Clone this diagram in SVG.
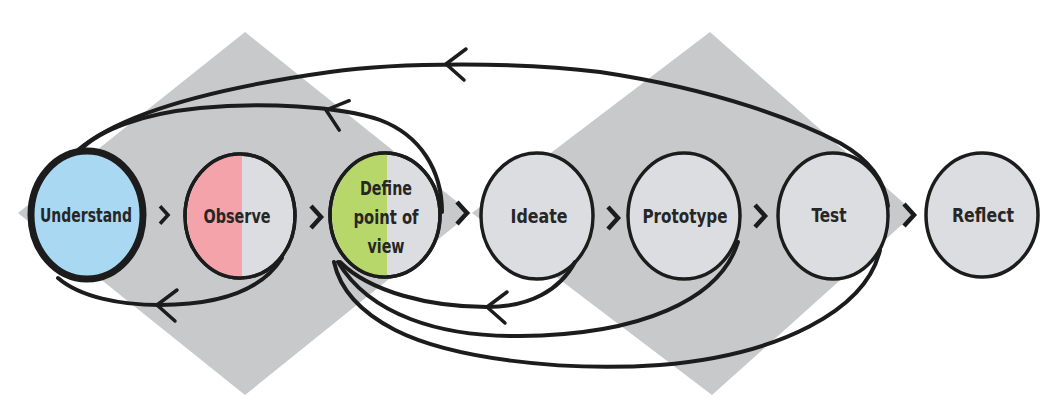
<svg xmlns="http://www.w3.org/2000/svg" width="1060" height="404" viewBox="0 0 1060 404">
<defs>
<style>
.bg{fill:#c8c9cb}
.node{stroke:#1c1c1c;stroke-width:3.5;fill:#dcdde0}
.half{stroke:none}
.lbl{font-family:"DejaVu Sans Condensed","Liberation Sans",sans-serif;font-weight:bold;font-size:20px;fill:#262626;text-anchor:middle}
.arc{fill:none;stroke:#1c1c1c;stroke-width:4;stroke-linecap:round}
.chev{fill:none;stroke:#1c1c1c;stroke-width:4.5;stroke-linecap:butt;stroke-linejoin:miter}
.ah{fill:none;stroke:#1c1c1c;stroke-width:3.5;stroke-linecap:round;stroke-linejoin:round}
</style>
<path id="ah" d="M20,-15 L0,0 L18,16"/>
<path id="chev" d="M-5,-11 L5,0 L-5,11"/>
</defs>
<rect width="1060" height="404" fill="#ffffff"/>
<g id="backdrop">
<polygon class="bg" points="18,213 245,32 471,213 245,395"/>
<polygon class="bg" points="472,213 710,32 915,213 712,395"/>
</g>
<g id="chevrons" class="chev">
<use href="#chev" transform="translate(164,215) scale(0.8)"/>
<use href="#chev" transform="translate(316,217)"/>
<use href="#chev" transform="translate(462,213)"/>
<use href="#chev" transform="translate(613,218)"/>
<use href="#chev" transform="translate(760,216)"/>
<use href="#chev" transform="translate(909,215)"/>
</g>
<g id="n-understand">
<ellipse cx="87" cy="215" rx="56" ry="64" fill="#a9d8f2" stroke="#1c1c1c" stroke-width="7"/>
<text class="lbl" x="86" y="222" textLength="92" lengthAdjust="spacingAndGlyphs">Understand</text>
</g>
<g id="n-observe">
<ellipse class="node" cx="240" cy="216" rx="55" ry="62"/>
<path class="half" d="M242,154 A55,62 0 0 0 242,278 Z" fill="#f5a3aa"/>
<ellipse cx="240" cy="216" rx="55" ry="62" fill="none" stroke="#1c1c1c" stroke-width="3.5"/>
<text class="lbl" x="237" y="223" textLength="67" lengthAdjust="spacingAndGlyphs">Observe</text>
</g>
<g id="n-define">
<ellipse class="node" cx="385" cy="215" rx="55" ry="62"/>
<path class="half" d="M387,153 A55,62 0 0 0 387,277 Z" fill="#b7d76b"/>
<ellipse cx="385" cy="215" rx="55" ry="62" fill="none" stroke="#1c1c1c" stroke-width="3.5"/>
<text class="lbl" x="386" y="195" textLength="52" lengthAdjust="spacingAndGlyphs">Define</text>
<text class="lbl" x="386" y="224" textLength="65" lengthAdjust="spacingAndGlyphs">point of</text>
<text class="lbl" x="386" y="253" textLength="37" lengthAdjust="spacingAndGlyphs">view</text>
</g>
<g id="n-ideate">
<ellipse class="node" cx="537" cy="216" rx="56" ry="63"/>
<text class="lbl" x="539" y="223" textLength="57" lengthAdjust="spacingAndGlyphs">Ideate</text>
</g>
<g id="n-prototype">
<ellipse class="node" cx="684" cy="216" rx="56" ry="63"/>
<text class="lbl" x="685" y="223" textLength="85" lengthAdjust="spacingAndGlyphs">Prototype</text>
</g>
<g id="n-test">
<ellipse class="node" cx="833" cy="216" rx="55" ry="63"/>
<text class="lbl" x="829" y="222" textLength="35" lengthAdjust="spacingAndGlyphs">Test</text>
</g>
<g id="n-reflect">
<ellipse class="node" cx="982" cy="215" rx="56" ry="62"/>
<text class="lbl" x="983" y="222" textLength="62" lengthAdjust="spacingAndGlyphs">Reflect</text>
</g>
<g id="connectors">
<path class="arc" d="M888,206 C885,180 870,160 840,143 C800,122 720,90 600,72 C520,62 400,62 330,72 C230,86 125,110 78,150"/>
<path class="arc" d="M442,212 C442,170 420,135 380,120 C340,106 260,102 200,108 C140,114 100,130 80,150"/>
<path class="arc" d="M282,258 C262,290 220,305 160,305 C120,305 80,297 58,278"/>
<path class="arc" d="M575,262 C560,290 530,307 487,307 C430,307 370,292 340,262"/>
<path class="arc" d="M738,242 C720,300 640,335 520,336 C440,337 370,315 338,262"/>
<path class="arc" d="M880,250 C866,310 780,355 660,365 C560,372 450,358 395,330 C360,312 340,290 334,262"/>
<use class="ah" href="#ah" transform="translate(446,64)"/>
<use class="ah" href="#ah" transform="translate(326,110) rotate(15)"/>
<use class="ah" href="#ah" transform="translate(157,305)"/>
<use class="ah" href="#ah" transform="translate(487,307)"/>
</g>
</svg>
